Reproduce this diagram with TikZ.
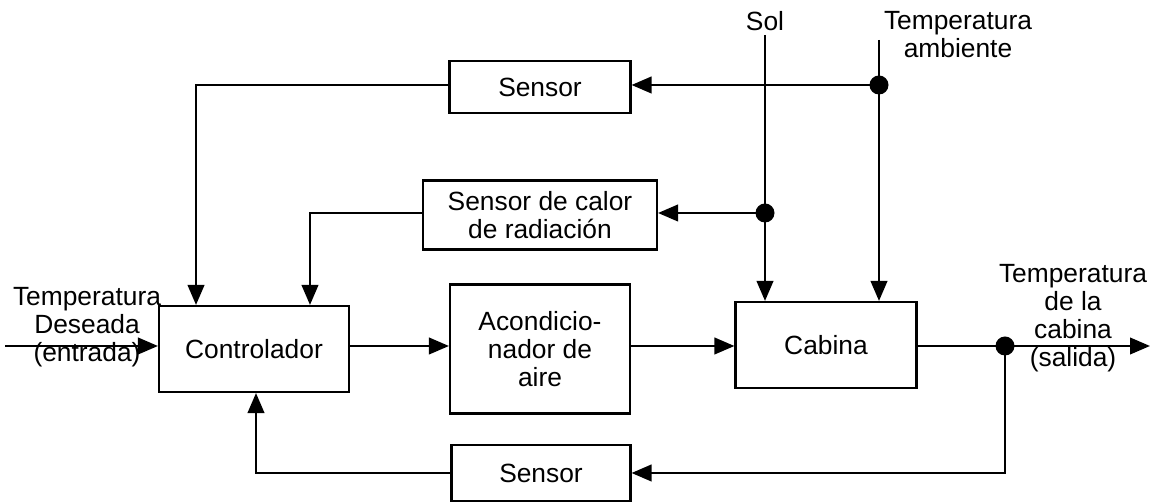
\documentclass[tikz,border=0pt]{standalone}
\usepackage{fontspec}
\setmainfont{Liberation Sans}
\usetikzlibrary{arrows.meta, positioning, calc}

\begin{document}
\begin{tikzpicture}[x=0.02cm, y=-0.02cm,
  every node/.style={font=\fontsize{15}{16}\selectfont},
  block/.style={draw, line width=1.2pt, align=center, inner sep=2pt},
  arr/.style={-{Triangle[length=0.4cm, width=0.33cm]}, line width=1.4pt},
  lbl/.style={align=center, inner sep=0pt}]
  \useasboundingbox (0,0) rectangle (1161,502);
  % Blocks
  \node[block, minimum width=3.8cm, minimum height=1.72cm] (ctrl) at (254,349) {Controlador};
  \node[block, minimum width=3.6cm, minimum height=2.58cm] (acond) at (540,349) {Acondicio-\\nador de\\aire};
  \node[block, minimum width=3.62cm, minimum height=1.72cm] (cabina) at (826,345) {Cabina};
  \node[block, minimum width=3.62cm, minimum height=1.04cm] (stop) at (540,87) {Sensor};
  \node[block, minimum width=4.68cm, minimum height=1.38cm] (calor) at (540,215) {Sensor de calor\\de radiaci\'on};
  \node[block, minimum width=3.58cm, minimum height=1.12cm] (sbot) at (541,473) {Sensor};
  % Points
  \coordinate (main) at (0,346);
  \coordinate (in) at (5,346);
  \coordinate (out) at (1150,346);
  \coordinate (outdot) at (1005,346);
  \coordinate (sol) at (765,35);
  \coordinate (soldot) at (765,213);
  \coordinate (amb) at (879,40);
  \coordinate (ambdot) at (879,85);
  % Labels
  \node[lbl] (soltxt) at (765,21) {Sol};
  \node[lbl] (ambtxt) at (958,35) {Temperatura\\ambiente};
  \node[lbl] (intxt) at (87,327) {Temperatura\\Deseada\\(entrada)};
  \node[lbl] (outtxt) at (1073,318) {Temperatura\\de la\\cabina\\(salida)};
  % Forward path
  \draw[arr] (in) -- (in -| ctrl.west);
  \draw[arr] (ctrl.east |- main) -- (acond.west |- main);
  \draw[arr] (acond.east |- main) -- (cabina.west |- main);
  \draw[arr] (cabina.east |- main) -- (out);
  % Disturbances
  \draw[arr] (sol) -- (sol |- cabina.north);
  \draw[arr] (amb) -- (amb |- cabina.north);
  \draw[arr] (soldot) -- (calor.east |- soldot);
  \draw[arr] (ambdot) -- (stop.east |- ambdot);
  % Feedback
  \draw[arr] (stop.west |- ambdot) -| ([xshift=-1.16cm]ctrl.north);
  \draw[arr] (calor.west |- soldot) -| ([xshift=1.12cm]ctrl.north);
  \draw[arr] (outdot) |- (sbot.east);
  \draw[arr] (sbot.west) -| ([xshift=0.04cm]ctrl.south);
  % Junctions
  \fill (outdot) circle (0.19cm);
  \fill (soldot) circle (0.19cm);
  \fill (ambdot) circle (0.19cm);
\end{tikzpicture}
\end{document}
